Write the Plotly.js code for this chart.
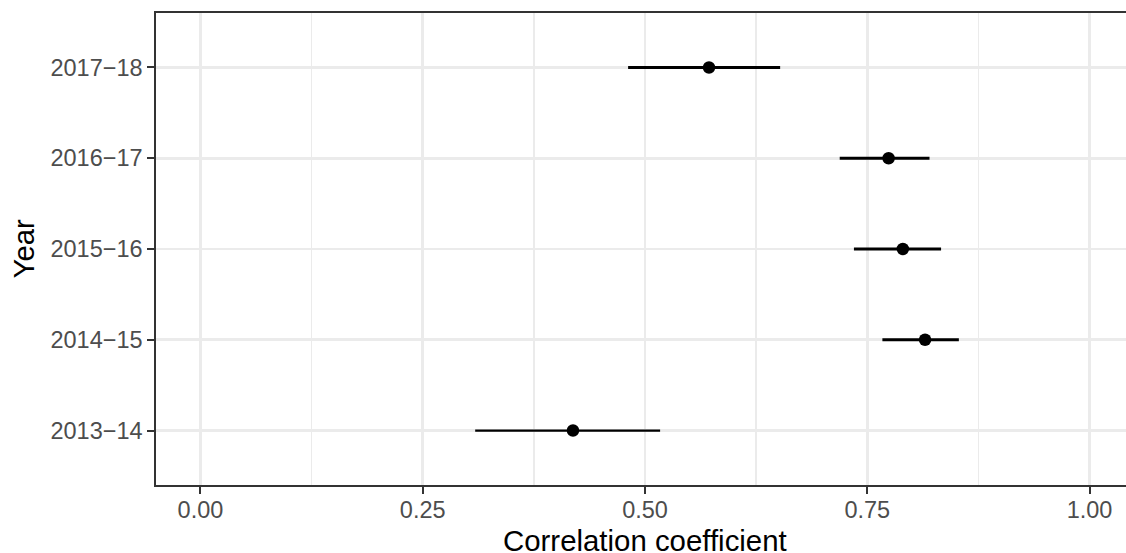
<!DOCTYPE html>
<html>
<head>
<meta charset="utf-8">
<script src="https://cdn.plot.ly/plotly-3.0.1.min.js"></script>
<style>
html, body { margin: 0; padding: 0; overflow: hidden; background: #fff; width: 1126px; height: 553px; }
#chart { width: 1140px; height: 553px; }
</style>
</head>
<body>
<div id="chart"></div>
<script>
// Data
var years = ["2013\u221214", "2014\u221215", "2015\u221216", "2016\u221217", "2017\u221218"];
var estimate = [0.419, 0.815, 0.790, 0.774, 0.572];
var lower    = [0.309, 0.767, 0.735, 0.719, 0.481];
var upper    = [0.517, 0.853, 0.833, 0.820, 0.652];
var xTickVals = [0, 0.25, 0.5, 0.75, 1];
var xTickText = ["0.00", "0.25", "0.50", "0.75", "1.00"];
var xTitle = "Correlation coefficient";
var yTitle = "Year";

// styles
var lineWidths = [2.3, 3.1, 3.1, 3.1, 3.1];

var traces = [];
for (var i = 0; i < years.length; i++) {
  traces.push({
    type: 'scatter', mode: 'lines',
    x: [lower[i], upper[i]], y: [years[i], years[i]],
    line: {color: '#000', width: lineWidths[i]},
    hoverinfo: 'skip', showlegend: false
  });
}
traces.push({
  type: 'scatter', mode: 'markers',
  x: estimate, y: years,
  marker: {color: '#000', size: 12.5},
  showlegend: false
});

var axisCommon = {
  showline: true, mirror: true, linecolor: '#333333', linewidth: 1.7,
  ticks: 'outside', ticklen: 7, tickwidth: 2, tickcolor: '#333333',
  gridcolor: '#ebebeb', gridwidth: 2.7, zeroline: false,
  tickfont: {family: 'Liberation Sans, Arial, sans-serif', size: 23.5, color: '#4d4d4d'}
};

var titleFont = {family: 'Liberation Sans, Arial, sans-serif', size: 29.4, color: '#000'};

var layout = {
  width: 1140, height: 553,
  margin: {l: 155.5, r: 5.5, t: 12.7, b: 68},
  paper_bgcolor: '#fff', plot_bgcolor: '#fff',
  font: {family: 'Liberation Sans, Arial, sans-serif'},
  xaxis: Object.assign({}, axisCommon, {
    range: [-0.05, 1.05],
    tickvals: xTickVals, ticktext: xTickText,
    ticklabelstandoff: -4,
    minor: {tickvals: [0.125, 0.375, 0.625, 0.875], showgrid: true, gridcolor: '#ebebeb', gridwidth: 1.3, ticks: ''}
  }),
  yaxis: Object.assign({}, axisCommon, {
    type: 'category', categoryorder: 'array', categoryarray: years,
    range: [-0.6, 4.6]
  }),
  annotations: [
    {text: xTitle, xref: 'paper', yref: 'paper', x: 0.5, y: 0, xanchor: 'center', yanchor: 'middle',
     yshift: -55, showarrow: false, font: titleFont},
    {text: yTitle, xref: 'paper', yref: 'paper', x: 0, y: 0.5, xanchor: 'center', yanchor: 'middle',
     xshift: -133.5, textangle: -90, showarrow: false, font: titleFont}
  ]
};

Plotly.newPlot('chart', traces, layout, {displayModeBar: false, staticPlot: true});
</script>
</body>
</html>
